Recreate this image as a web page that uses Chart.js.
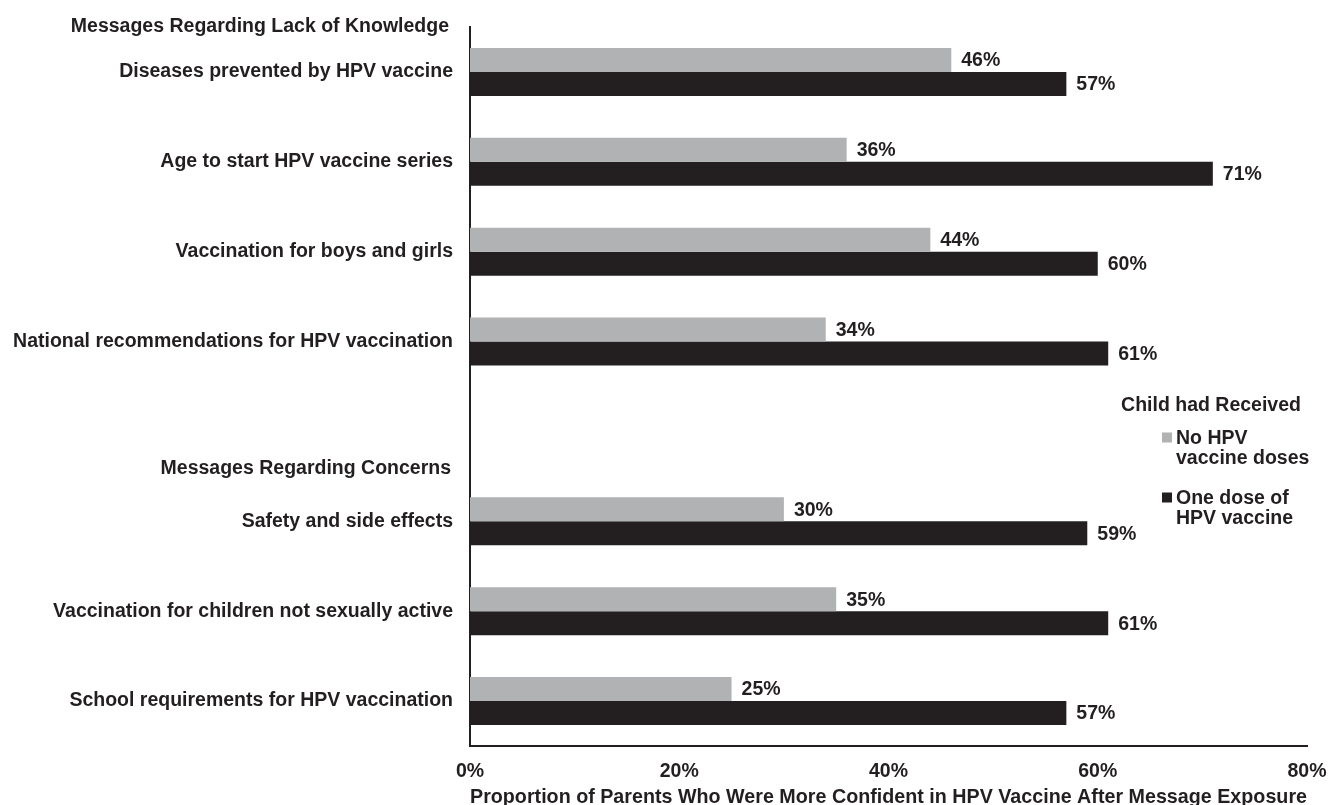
<!DOCTYPE html>
<html>
<head>
<meta charset="utf-8">
<script src="https://cdn.jsdelivr.net/npm/chart.js@4.4.1/dist/chart.umd.min.js"></script>
<style>
  html, body { margin: 0; padding: 0; background: #ffffff; }
  #wrap { position: relative; width: 1328px; height: 805px; }
</style>
</head>
<body>
<div id="wrap"><canvas id="c" width="1328" height="805"></canvas></div>
<script>
// ---- data ----
const categories = [
  "Diseases prevented by HPV vaccine",
  "Age to start HPV vaccine series",
  "Vaccination for boys and girls",
  "National recommendations for HPV vaccination",
  "",
  "Safety and side effects",
  "Vaccination for children not sexually active",
  "School requirements for HPV vaccination"
];
const noDoses = [46, 36, 44, 34, null, 30, 35, 25];
const oneDose = [57, 71, 60, 61, null, 59, 61, 57];
const seriesNames = [["No HPV", "vaccine doses"], ["One dose of", "HPV vaccine"]];
const legendTitle = "Child had Received";
const groupHeaders = ["Messages Regarding Lack of Knowledge", "Messages Regarding Concerns"];
const xTicks = [0, 20, 40, 60, 80];
const xTitle = "Proportion of Parents Who Were More Confident in HPV Vaccine After Message Exposure";

// ---- style ----
const INK = '#231f20';
const GRAY = '#b1b2b4';
const FONT = 'Liberation Sans, Arial, Helvetica, sans-serif';
const FS = 19.5;

const headerPlugin = {
  id: 'groupHeaders',
  afterDraw(chart, args, opts) {
    const ctx = chart.ctx;
    const y = chart.scales.y;
    ctx.save();
    ctx.font = 'bold ' + FS + 'px ' + FONT;
    ctx.fillStyle = INK;
    ctx.textAlign = 'right';
    ctx.textBaseline = 'middle';
    groupHeaders.forEach((t, i) => {
      const py = y.getPixelForValue(opts.at[i]) + opts.dy[i];
      ctx.fillText(t, y.right - opts.inset[i], py);
    });
    ctx.restore();
  }
};

const valueLabelPlugin = {
  id: 'valueLabels',
  afterDatasetsDraw(chart) {
    const ctx = chart.ctx;
    ctx.save();
    ctx.font = 'bold ' + FS + 'px ' + FONT;
    ctx.fillStyle = INK;
    ctx.textAlign = 'left';
    ctx.textBaseline = 'middle';
    chart.data.datasets.forEach((ds, di) => {
      const meta = chart.getDatasetMeta(di);
      meta.data.forEach((bar, i) => {
        const v = ds.data[i];
        if (v === null || v === undefined) return;
        ctx.fillText(v + '%', bar.x + 10, bar.y + 1);
      });
    });
    ctx.restore();
  }
};

const legendPlugin = {
  id: 'customLegend',
  afterDraw(chart, args, o) {
    const ctx = chart.ctx;
    ctx.save();
    ctx.font = 'bold ' + FS + 'px ' + FONT;
    ctx.fillStyle = INK;
    ctx.textBaseline = 'alphabetic';
    ctx.textAlign = 'center';
    ctx.fillText(legendTitle, o.titleX, o.titleY);
    ctx.textAlign = 'left';
    chart.data.datasets.forEach((ds, i) => {
      const top = o.itemY[i];
      ctx.fillStyle = ds.backgroundColor;
      ctx.fillRect(o.boxX, top - 11, o.box, o.box);
      ctx.fillStyle = INK;
      seriesNames[i].forEach((line, li) => {
        ctx.fillText(line, o.textX, top + li * o.lineH);
      });
    });
    ctx.restore();
  }
};

new Chart(document.getElementById('c'), {
  type: 'bar',
  data: {
    labels: categories,
    datasets: [
      { label: seriesNames[0].join(' '), data: noDoses, backgroundColor: GRAY },
      { label: seriesNames[1].join(' '), data: oneDose, backgroundColor: INK }
    ]
  },
  options: {
    indexAxis: 'y',
    responsive: false,
    animation: false,
    devicePixelRatio: 1,
    categoryPercentage: 0.535,
    barPercentage: 1.0,
    layout: { padding: { top: 27, right: 21, left: 0, bottom: 0 } },
    plugins: {
      legend: { display: false },
      tooltip: { enabled: false },
      groupHeaders: { at: [-0.5, 4.42], dy: [0, -1], inset: [21, 19] },
      customLegend: { titleX: 1211, titleY: 410.5, boxX: 1162, box: 10, textX: 1176, itemY: [443.5, 503.5], lineH: 20.5 }
    },
    scales: {
      x: {
        min: 0, max: 80,
        afterBuildTicks(s) { s.ticks = xTicks.map(v => ({ value: v })); },
        afterFit(s) { s.height = 59; s.paddingLeft = 0; s.paddingRight = 0; },
        grid: { display: false, drawTicks: false },
        border: { display: true, color: INK, width: 2 },
        ticks: {
          padding: 14,
          color: INK,
          font: { family: FONT, size: FS, weight: 'bold' },
          callback: v => v + '%'
        },
        title: {
          display: true,
          text: xTitle,
          color: INK,
          font: { family: FONT, size: 20.2, weight: 'bold', lineHeight: 1.0 },
          padding: { top: 0, bottom: -3 }
        }
      },
      y: {
        afterFit(s) { s.width = 470; s.paddingTop = 0; s.paddingBottom = 0; },
        grid: { display: false, drawTicks: false },
        border: { display: true, color: INK, width: 2 },
        ticks: {
          padding: 17,
          color: INK,
          autoSkip: false,
          font: { family: FONT, size: FS, weight: 'bold' }
        }
      }
    }
  },
  plugins: [headerPlugin, valueLabelPlugin, legendPlugin]
});
</script>
</body>
</html>
